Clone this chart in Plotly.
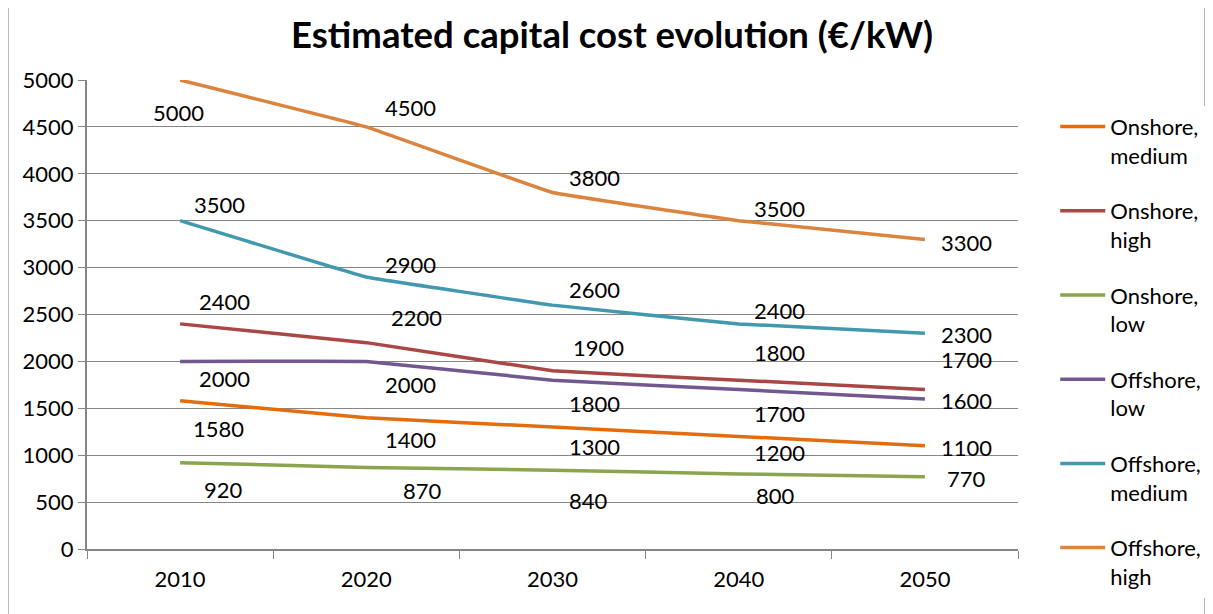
import plotly.graph_objects as go

years = ["2010", "2020", "2030", "2040", "2050"]

series_names = ["Onshore,<br>medium", "Onshore,<br>high", "Onshore,<br>low",
                "Offshore,<br>low", "Offshore,<br>medium", "Offshore,<br>high"]

onshore_medium = [1580, 1400, 1300, 1200, 1100]
onshore_high = [2400, 2200, 1900, 1800, 1700]
onshore_low = [920, 870, 840, 800, 770]
offshore_low = [2000, 2000, 1800, 1700, 1600]
offshore_medium = [3500, 2900, 2600, 2400, 2300]
offshore_high = [5000, 4500, 3800, 3500, 3300]

values = [onshore_medium, onshore_high, onshore_low,
          offshore_low, offshore_medium, offshore_high]

colors = ["#E46C0A", "#AA4643", "#89A54E", "#71588F", "#4198AF", "#DB843D"]

# label offsets in pixels (dx, dy) per point, as Excel placed them
label_shift = [
    [(38, -28), (44, -22), (42, -19), (41, -16), (42, -2)],
    [(44, 22), (50, 25), (46, 23), (41, 28), (42, 30)],
    [(43, -27), (56, -23), (36, -30), (37, -22), (42, -2)],
    [(44, -17), (44, -23), (42, -23), (41, -24), (42, -2)],
    [(39, 16), (44, 12), (42, 16), (41, 13), (42, -1)],
    [(-2, -32), (44, 19), (42, 15), (41, 12), (42, -3)],
]

font_main = "Lato, Calibri, 'Liberation Sans', sans-serif"
fsize = 22

fig = go.Figure()
for name, vals, col in zip(series_names, values, colors):
    fig.add_trace(go.Scatter(x=years, y=vals, name=name, mode="lines",
                             legendgroup=name,
                             line=dict(color=col, width=3.5,
                                       shape="spline", smoothing=0.15)))

annotations = []
for vals, shifts in zip(values, label_shift):
    for i, (v, (dx, dy)) in enumerate(zip(vals, shifts)):
        annotations.append(dict(x=i, y=v, xref="x", yref="y", text=str(v),
                                showarrow=False, xshift=dx, yshift=dy,
                                font=dict(size=fsize, color="black",
                                          family=font_main)))

fig.update_layout(
    width=1213, height=614,
    margin=dict(l=79, r=203, t=72, b=73),
    paper_bgcolor="white", plot_bgcolor="white",
    title=dict(text="<b>Estimated capital cost evolution (€/kW)</b>",
               x=0.498, xanchor="center", y=0.955, yanchor="middle",
               font=dict(size=36.5, color="black", family=font_main)),
    font=dict(family=font_main, size=fsize, color="black"),
    showlegend=True,
    legend=dict(x=1.04, xanchor="left", y=0.945, yanchor="top",
                valign="top", tracegroupgap=24, maxheight=600,
                font=dict(size=fsize, color="black", family=font_main),
                itemwidth=45),
    annotations=annotations,
    shapes=[dict(type="rect", xref="paper", yref="paper",
                 x0=-0.085, x1=1.201, y0=-0.16, y1=1.158,
                 line=dict(color="#8c8c8c", width=1.5), layer="below")],
)

fig.update_xaxes(type="category", range=[-0.5, 4.5], tickson="boundaries",
                 ticks="outside", tickangle=0, ticklabelstandoff=10,
                 ticklen=8, tickcolor="#868686", showline=True,
                 linecolor="#868686", linewidth=2, showgrid=False,
                 tickfont=dict(size=fsize, family=font_main, color="black"))
fig.update_yaxes(range=[0, 5000], dtick=500, ticks="outside", ticklen=7,
                 tickcolor="#868686", showline=True, linecolor="#868686",
                 linewidth=2, showgrid=True, gridcolor="#868686",
                 gridwidth=1.3, zeroline=False,
                 tickfont=dict(size=fsize, family=font_main, color="black"))

fig.write_html("out.html")
